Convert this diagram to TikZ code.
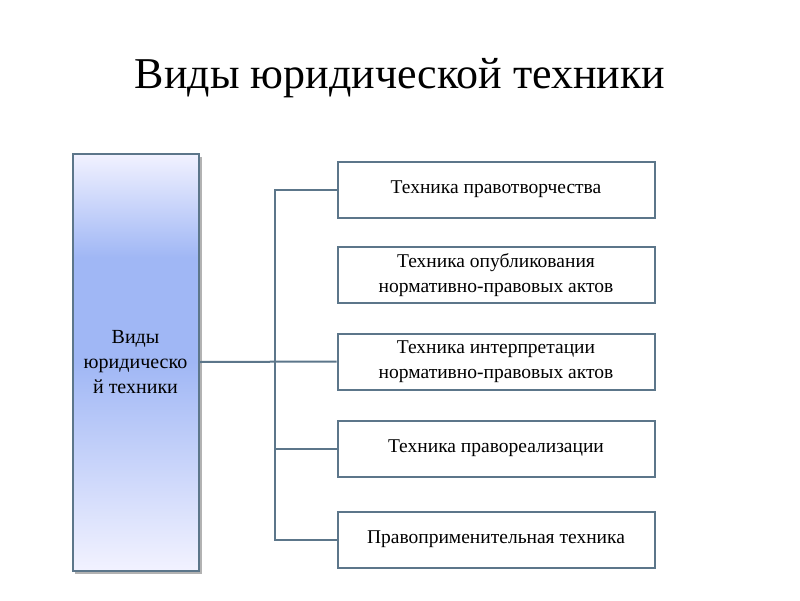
\documentclass[tikz,border=0pt]{standalone}
\usepackage{fontspec}
\setmainfont{Liberation Serif}
\definecolor{lc}{RGB}{92,118,138}
\begin{document}
\begin{tikzpicture}[x=1pt,y=-1pt,
  ln/.style={draw=lc, line width=2pt},
  rbox/.style={ln, fill=white, minimum width=317pt, minimum height=56pt, align=center, font=\fontsize{19.5}{25}\selectfont, inner sep=0pt},
  lbox/.style={ln, minimum width=126pt, minimum height=417pt, align=center, font=\fontsize{20}{25}\selectfont, inner sep=0pt}]
\useasboundingbox (0,0) rectangle (800,600);
\node[font=\fontsize{44}{48}\selectfont] (t) at (400,78) {Виды юридической техники};
\fill[black!30] (75,157) rectangle (202,574);
\shade[top color=white!95!blue, bottom color={rgb,255:red,160;green,183;blue,245}, middle color={rgb,255:red,160;green,183;blue,245}] (72,153) rectangle (199,362);
\shade[bottom color=white!95!blue, top color={rgb,255:red,160;green,183;blue,245}] (72,362) rectangle (199,571);
\node[lbox] (L) at (135.5,362) {Виды\\юридическо\\й техники};
\node[rbox] (b1) at (496,189.5) {Техника правотворчества};
\node[rbox] (b2) at (496,275) {Техника опубликования\\нормативно-правовых актов};
\node[rbox] (b3) at (496,361.5) {Техника интерпретации\\нормативно-правовых актов};
\node[rbox] (b4) at (496,448.5) {Техника правореализации};
\node[rbox] (b5) at (496,539.5) {Правоприменительная техника};
\draw[ln] (L.east) -- (b3.west);
\draw[ln] (b1.west) -| (275,362) |- (b5.west);
\draw[ln] (275,448.5) -- (b4.west);
\end{tikzpicture}
\end{document}
